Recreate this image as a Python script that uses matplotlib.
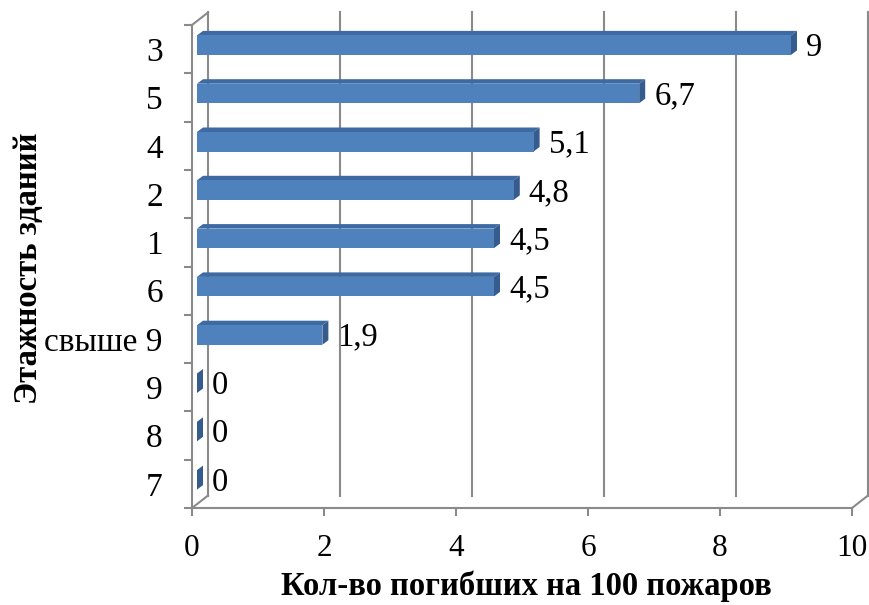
import matplotlib
matplotlib.use("Agg")
import matplotlib.pyplot as plt
from matplotlib.patches import Polygon

# Data
categories = ["3", "5", "4", "2", "1", "6", "свыше 9", "9", "8", "7"]
values = [9, 6.7, 5.1, 4.8, 4.5, 4.5, 1.9, 0, 0, 0]
x_ticks = [0, 2, 4, 6, 8, 10]
x_title = "Кол-во погибших на 100 пожаров"
y_title = "Этажность зданий"

plt.rcParams["font.family"] = ["Liberation Serif", "DejaVu Serif"]

W, H, DPI = 869, 605, 100
fig = plt.figure(figsize=(W / DPI, H / DPI), dpi=DPI)

# Front plane of the 3-D box, in pixels
L, R, T, B = 192, 852, 25, 508
ax = fig.add_axes([L / W, (H - B) / H, (R - L) / W, (B - T) / H])
ax.set_xlim(0, 10)
ax.set_ylim(len(categories), 0)

# pixel -> data unit conversion
ux = 10 / (R - L)
uy = len(categories) / (B - T)

grid_c = "#8a8a8a"
lw = 1.5

# Depth of the box (back wall offset), pixels: right / up
BDX, BDY = 16, 12.5
# Bars: offset of the front face, and bar depth
FDX, FDY = 5, 4
DDX, DDY = 6, 4.5
bar_h = 19.5 * uy

front_c = "#4F81BD"
top_c = "#3D6AA2"
side_c = "#355C8C"

# Back wall gridlines and box edges
n = len(categories)
for xv in x_ticks:
    ax.plot([xv + BDX * ux, xv + BDX * ux], [n - BDY * uy, -BDY * uy],
            color=grid_c, lw=lw, clip_on=False, zorder=1)
for (x0, y0) in [(0, 0), (0, n), (10, n)]:
    ax.plot([x0, x0 + BDX * ux], [y0, y0 - BDY * uy], color=grid_c, lw=lw,
            clip_on=False, zorder=1)

# Bars
for i, v in enumerate(values):
    yc = i + 0.5 - FDY * uy
    x0 = FDX * ux
    x1 = x0 + v
    yt, yb = yc - bar_h / 2, yc + bar_h / 2
    ddx, ddy = DDX * ux, DDY * uy
    top = [(x0, yt), (x1, yt), (x1 + ddx, yt - ddy), (x0 + ddx, yt - ddy)]
    side = [(x1, yt), (x1 + ddx, yt - ddy), (x1 + ddx, yb - ddy), (x1, yb)]
    ax.add_patch(Polygon(top, closed=True, fc=top_c, ec="none", zorder=3, clip_on=False))
    ax.add_patch(Polygon(side, closed=True, fc=side_c, ec="none", zorder=3, clip_on=False))
    if v > 0:
        ax.add_patch(Polygon([(x0, yt), (x1, yt), (x1, yb), (x0, yb)], closed=True,
                             fc=front_c, ec="none", zorder=4, clip_on=False))
    label = f"{v:g}".replace(".", ",")
    ax.text(x1 + 15 * ux, yc + 2.5 * uy, label, ha="left", va="center",
            fontsize=23.5, color="black", zorder=5, clip_on=False)

# Axes lines and ticks
for s in ["top", "right"]:
    ax.spines[s].set_visible(False)
for s in ["left", "bottom"]:
    ax.spines[s].set_color(grid_c)
    ax.spines[s].set_linewidth(lw)

ax.set_xticks(x_ticks)
ax.set_xticklabels([str(t) for t in x_ticks])
ax.tick_params(axis="x", length=6, width=lw, color=grid_c, pad=13, labelsize=22.5)

ax.set_yticks([i + 0.5 for i in range(n)])
ax.set_yticklabels(categories)
ax.set_yticks(list(range(n + 1)), minor=True)
ax.tick_params(axis="y", which="major", length=0, pad=21, labelsize=24)
ax.tick_params(axis="y", which="minor", length=6, width=lw, color=grid_c)

ax.set_xlabel(x_title, fontsize=23.5, fontweight="bold")
ax.set_ylabel(y_title, fontsize=23.5, fontweight="bold")
ax.xaxis.set_label_coords((526 - L) / (R - L), -(571 - B) / (B - T))
ax.yaxis.set_label_coords(-(L - 44) / (R - L), (B - 268) / (B - T))

ax.set_facecolor("none")
fig.savefig("out.png", dpi=DPI)
